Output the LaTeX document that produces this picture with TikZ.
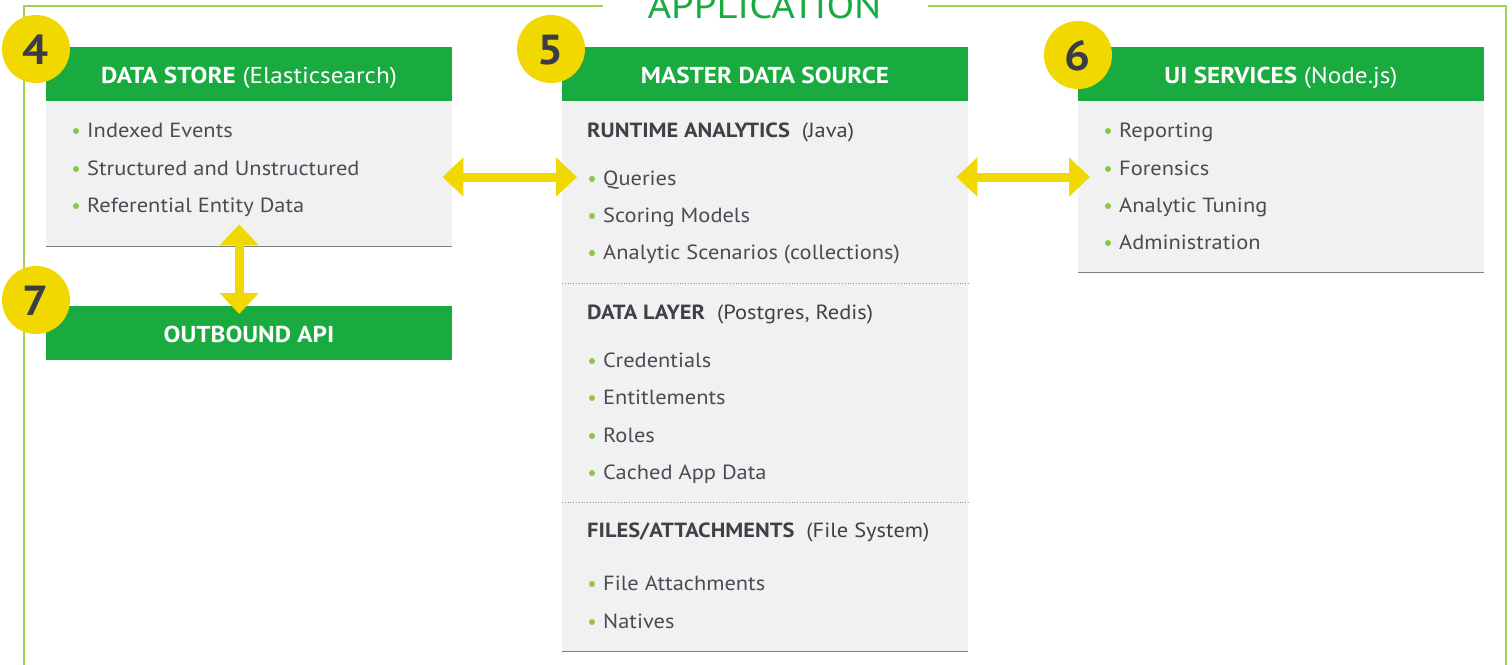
\documentclass[tikz,border=0pt]{standalone}
\usepackage{fontspec}
\setmainfont[FakeStretch=1.095]{PT Sans}
\usetikzlibrary{arrows.meta,calc}
\definecolor{hdrgreen}{RGB}{26,171,64}
\definecolor{bodygrey}{RGB}{240,241,240}
\definecolor{lineGrey}{RGB}{128,128,128}
\definecolor{frameGreen}{RGB}{160,208,90}
\definecolor{ylw}{RGB}{240,216,0}
\definecolor{numtxt}{RGB}{60,60,68}
\definecolor{itemtxt}{RGB}{75,75,85}
\definecolor{headtxt}{RGB}{64,64,72}
\definecolor{dotc}{RGB}{141,198,63}
\newcommand{\itemrow}[4]{%
  \fill[dotc] ({#1-11},{#2-6}) circle[radius=3pt];
  \node[itm] (#3) at (#1,#2) {#4};}
\begin{document}
\begin{tikzpicture}[x=1pt,y=-1pt,
  frame/.style={draw=frameGreen,line width=2pt},
  hdr/.style={fill=hdrgreen,draw=none,minimum width=406pt,minimum height=54pt,anchor=north west,inner sep=0pt},
  bodybox/.style={fill=bodygrey,draw=none,minimum width=406pt,anchor=north west,inner sep=0pt},
  bline/.style={draw=lineGrey,line width=1.6pt},
  sepline/.style={draw=lineGrey!80,line width=0.8pt,dotted},
  hdrtxt/.style={anchor=base,inner sep=0pt,text=white,font=\fontsize{23}{27}\selectfont},
  itm/.style={anchor=base west,inner sep=0pt,text=itemtxt,font=\fontsize{20.5}{24}\selectfont},
  subhead/.style={anchor=base west,inner sep=0pt,text=headtxt,font=\fontsize{20.5}{24}\selectfont},
  numcirc/.style={circle,fill=ylw,minimum size=68pt,inner sep=0pt},
  numtxt/.style={text=numtxt,font=\fontsize{42}{46}\bfseries\selectfont,inner sep=0pt},
  dbl/.style={draw=ylw,line width=9pt,{Triangle[width=38pt,length=21pt]}-{Triangle[width=38pt,length=21pt]}}
]
\useasboundingbox (0,0) rectangle (1512,664);
% outer frame
\node[anchor=base,inner sep=0pt,text=hdrgreen,font=\fontsize{37}{42}\selectfont] (title) at (764.5,18) {APPLICATION};
\draw[frame] (603,6) -- (24,6) -- (24,670);
\draw[frame] (928,6) -- (1506,6) -- (1506,670);

% box 4
\node[bodybox,minimum height=145pt] (b4) at (46,101) {};
\draw[bline] (b4.south west) -- (b4.south east);
\node[hdr] (h4) at (46,47) {};
\node[hdrtxt] (h4t) at (249,83) {\textbf{DATA STORE} (Elasticsearch)};
\itemrow{87}{137}{i41}{Indexed Events}
\itemrow{87}{175}{i42}{Structured and Unstructured}
\itemrow{87}{212}{i43}{Referential Entity Data}

% box 7
\node[hdr] (h7) at (46,306) {};
\node[hdrtxt] (h7t) at (249,342) {\textbf{OUTBOUND API}};

% box 5
\node[bodybox,minimum height=550pt] (b5) at (562,101) {};
\draw[bline] (b5.south west) -- (b5.south east);
\node[hdr] (h5) at (562,47) {};
\node[hdrtxt] (h5t) at (765,83) {\textbf{MASTER DATA SOURCE}};
\node[subhead] (s51) at (587,137) {\textbf{RUNTIME ANALYTICS}\ \ (Java)};
\itemrow{603}{185}{i51}{Queries}
\itemrow{603}{222}{i52}{Scoring Models}
\itemrow{603}{259}{i53}{Analytic Scenarios (collections)}
\coordinate (sep1) at (0,283);
\draw[sepline] (b5.west |- sep1) -- (b5.east |- sep1);
\node[subhead] (s52) at (587,319) {\textbf{DATA LAYER}\ \ (Postgres, Redis)};
\itemrow{603}{367}{i54}{Credentials}
\itemrow{603}{404}{i55}{Entitlements}
\itemrow{603}{442}{i56}{Roles}
\itemrow{603}{479}{i57}{Cached App Data}
\coordinate (sep2) at (0,502);
\draw[sepline] (b5.west |- sep2) -- (b5.east |- sep2);
\node[subhead] (s53) at (587,537) {\textbf{FILES/ATTACHMENTS}\ \ (File System)};
\itemrow{603}{590}{i58}{File Attachments}
\itemrow{603}{628}{i59}{Natives}

% box 6
\node[bodybox,minimum height=171pt] (b6) at (1078,101) {};
\draw[bline] (b6.south west) -- (b6.south east);
\node[hdr] (h6) at (1078,47) {};
\node[hdrtxt] (h6t) at (1281,83) {\textbf{UI SERVICES} (Node.js)};
\itemrow{1119}{137}{i61}{Reporting}
\itemrow{1119}{175}{i62}{Forensics}
\itemrow{1119}{212}{i63}{Analytic Tuning}
\itemrow{1119}{249}{i64}{Administration}

% number circles
\node[numcirc] (c4) at (36,49) {};
\node[numtxt] at ([yshift=-1pt]c4) {4};
\node[numcirc] (c5) at (551,49) {};
\node[numtxt] at ([yshift=-1pt]c5) {5};
\node[numcirc] (c6) at (1078,55) {};
\node[numtxt] at ([yshift=-1pt]c6) {6};
\node[numcirc] (c7) at (36,300) {};
\node[numtxt] at ([yshift=-1pt]c7) {7};

% arrows
\coordinate (ay) at (0,177);
\draw[dbl] ($(b4.east |- ay)+(-10,0)$) -- ($(b5.west |- ay)+(15,0)$);
\draw[dbl] ($(b5.east |- ay)+(-12,0)$) -- ($(b6.west |- ay)+(12,0)$);
\draw[dbl] ($(b4.south)+(-10,-22)$) -- ($(h7.north)+(-10,8)$);
\end{tikzpicture}
\end{document}
